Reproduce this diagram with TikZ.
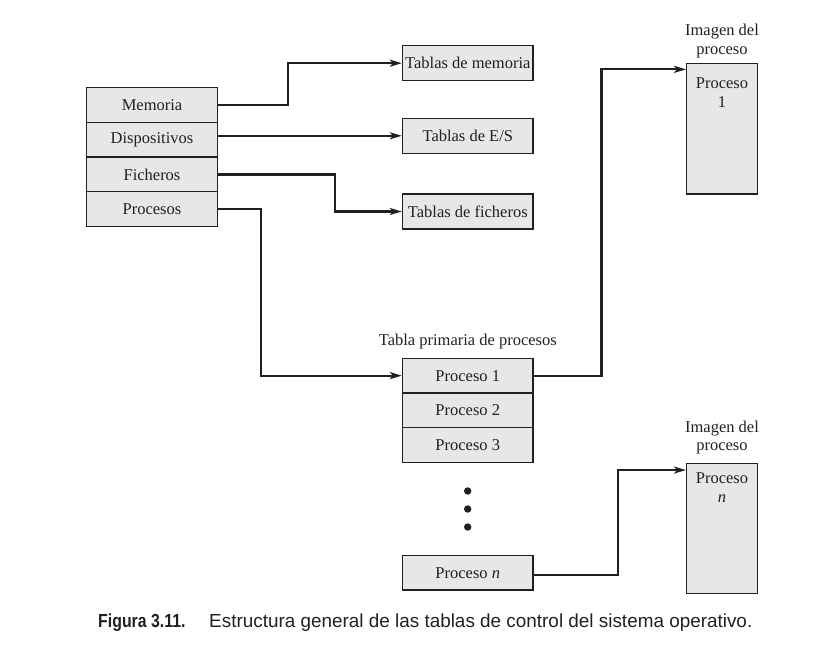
\documentclass[tikz,border=0pt]{standalone}
\usepackage{fontspec}
\setmainfont{Liberation Serif}
\newfontfamily\capfont{Liberation Sans}
\newfontfamily\capbold[FakeStretch=0.84]{Liberation Sans Bold}
\usetikzlibrary{arrows.meta}
\definecolor{boxfill}{HTML}{E6E7E8}
\definecolor{ink}{HTML}{231F20}
\tikzset{
  cell/.style={draw=ink, line width=1.3pt, fill=boxfill, minimum width=130.6pt, minimum height=34.7pt, inner sep=0pt, text=ink, font=\fontsize{16.5}{18.5}\selectfont},
  imgbox/.style={draw=ink, line width=1.3pt, fill=boxfill, minimum width=70.6pt, inner sep=0pt},
  txt/.style={text=ink, font=\fontsize{16.5}{18.5}\selectfont, inner sep=0pt, align=center},
  conn/.style={draw=ink, line width=2.2pt, -{Stealth[length=12pt,width=7pt,inset=3pt]}},
  capt/.style={text=ink, inner sep=0pt, anchor=base west}
}
\begin{document}
\begin{tikzpicture}[x=1pt,y=-1pt]
\useasboundingbox (0,0) rectangle (814,658);
% left table
\node[cell] (mem) at (152,105.05) {Memoria};
\node[cell] (dis) at (152,139.75) {Dispositivos};
\node[cell] (fic) at (152,174.45) {Ficheros};
\node[cell] (pro) at (152,209.15) {Procesos};
% tables
\node[cell, minimum height=35pt] (tm) at (467.8,63.2) {Tablas de memoria};
\node[cell, minimum height=35pt] (tes) at (467.8,135.8) {Tablas de E/S};
\node[cell, minimum height=35pt] (tf) at (467.8,211.5) {Tablas de ficheros};
% primary process table
\node[txt] (tpt) at (467.8,342) {Tabla primaria de procesos};
\node[cell] (tp1) at (467.8,375.65) {Proceso 1};
\node[cell] (tp2) at (467.8,410.35) {Proceso 2};
\node[cell] (tp3) at (467.8,445.05) {Proceso 3};
\node[cell, minimum height=34.3pt] (tpn) at (467.8,572.9) {Proceso \textit{n}};
\fill[ink] (467.7,491) circle (3.7pt) (467.7,509) circle (3.7pt) (467.7,527) circle (3.7pt);
% process images
\node[imgbox, minimum height=130.7pt] (img1) at (722,128.65) {};
\node[txt] (img1t) at (722,41) {Imagen del\\proceso};
\node[txt] (img1c) at (722,92.5) {Proceso\\1};
\node[imgbox, minimum height=130pt] (imgn) at (722,528.3) {};
\node[txt] (imgnt) at (722,437.5) {Imagen del\\proceso};
\node[txt] (imgnc) at (722,487.5) {Proceso\\\textit{n}};
% connectors
\draw[conn] (mem.east) -- ++(70,0) |- (tm.west);
\draw[conn] (dis.east |- tes.west) -- (tes.west);
\draw[conn] (fic.east) -- ++(116.7,0) |- (tf.west);
\draw[conn] (pro.east) -- ++(43.4,0) |- (tp1.west);
\draw[conn] (tp1.east) -- ++(67.7,0) |- ([yshift=-6.7pt]img1.north west);
\draw[conn] ([yshift=-2pt]tpn.east) -- ++(84,0) |- ([yshift=-7.4pt]imgn.north west);
% caption
\node[capt] (capa) at (98,627) {\capbold\fontsize{18.9}{22}\selectfont Figura 3.11.};
\node[capt] (capb) at (209,627) {\capfont\fontsize{18.9}{22}\selectfont Estructura general de las tablas de control del sistema operativo.};
\end{tikzpicture}
\end{document}
